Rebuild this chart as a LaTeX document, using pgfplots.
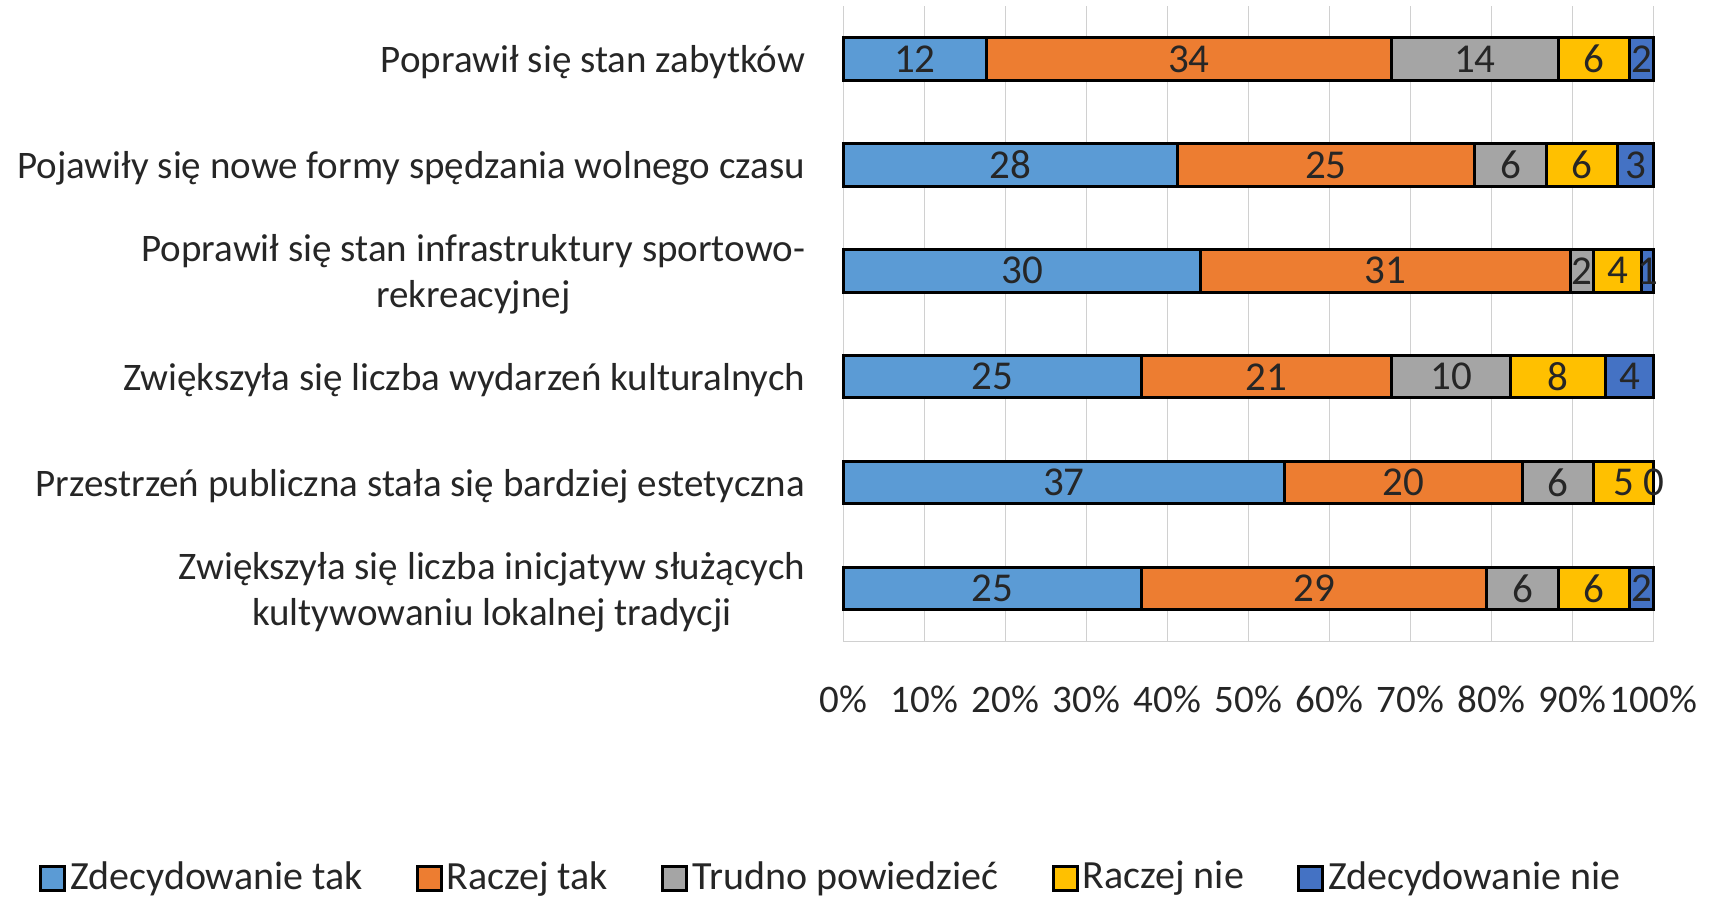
\documentclass[border=0pt]{standalone}
\usepackage{pgfplots}
\pgfplotsset{compat=1.18}
\usepackage{pgfplotstable}
\usepackage{fontspec}
\setmainfont{Carlito}
\definecolor{c1}{HTML}{5B9BD5}
\definecolor{c2}{HTML}{ED7D31}
\definecolor{c3}{HTML}{A5A5A5}
\definecolor{c4}{HTML}{FFC000}
\definecolor{c5}{HTML}{4472C4}
\definecolor{gridc}{HTML}{D0D0D0}
\definecolor{txt}{HTML}{262626}
\pgfplotstableread{
pos tak rtak trudno rnie nie
5 12 34 14 6 2
4 28 25 6 6 3
3 30 31 2 4 1
2 25 21 10 8 4
1 37 20 6 5 0
0 25 29 6 6 2
}\data
\begin{document}
\fontsize{19.5}{23}\selectfont
\begin{tikzpicture}[font=\fontsize{19.5}{23}\selectfont]
\useasboundingbox (0,0) rectangle (855.5pt,449pt);
\begin{axis}[
  at={(421.75pt,128.2pt)}, anchor=south west,
  scale only axis, width=405pt, height=317.8pt,
  xbar stacked, bar width=0.4,
  xmin=0, xmax=68, ymin=-0.5, ymax=5.5,
  clip=false,
  axis x line*=bottom, axis y line*=left,
  axis line style={draw=gridc, line width=0.8pt},
  xmajorgrids, major grid style={draw=gridc, line width=0.8pt},
  xtick={0,6.8,13.6,20.4,27.2,34,40.8,47.6,54.4,61.2,68},
  xticklabels={0\%,10\%,20\%,30\%,40\%,50\%,60\%,70\%,80\%,90\%,100\%},
  xtick style={draw=none}, ytick style={draw=none},
  xticklabel style={anchor=center, yshift=-29pt, text=txt, inner sep=0pt},
  ytick={0,1,2,3,4,5},
  yticklabels={{Zwiększyła się liczba inicjatyw służących\\kultywowaniu lokalnej tradycji},
    {Przestrzeń publiczna stała się bardziej estetyczna},
    {Zwiększyła się liczba wydarzeń kulturalnych},
    {Poprawił się stan infrastruktury sportowo-\\rekreacyjnej},
    {Pojawiły się nowe formy spędzania wolnego czasu},
    {Poprawił się stan zabytków}},
  yticklabel style={align=center, anchor=east, inner sep=0pt, xshift=-19pt, yshift=-1.6pt, text=txt},
  /pgf/number format/assume math mode=true,
  point meta=rawx,
  nodes near coords={\pgfmathprintnumber{\pgfplotspointmeta}},
  every node near coord/.append style={anchor=center, text=txt, inner sep=0pt,
     font=\fontsize{20.5}{24}\selectfont},
  every axis plot/.append style={draw=black, line width=1.5pt},
  legend columns=5,
  legend style={draw=none, fill=none, inner sep=0pt, outer sep=0pt,
     at={(-0.993,-0.372)}, anchor=west,
     font=\fontsize{20}{24}\selectfont,
     nodes={inner xsep=1.5pt, inner ysep=0pt, text=txt},
     /tikz/every odd column/.append style={column sep=0.5pt},
     /tikz/every even column/.append style={column sep=25pt}},
  legend image code/.code={\draw[#1, line width=1.5pt] (0pt,-6pt) rectangle (12pt,6pt);},
]
\addplot[fill=c1] table[x=tak, y=pos] {\data};
\addplot[fill=c2] table[x=rtak, y=pos] {\data};
\addplot[fill=c3] table[x=trudno, y=pos] {\data};
\addplot[fill=c4] table[x=rnie, y=pos] {\data};
\addplot[fill=c5] table[x=nie, y=pos] {\data};
\legend{Zdecydowanie tak, Raczej tak, Trudno powiedzieć, Raczej nie, Zdecydowanie nie}
\coordinate (zerolabel) at (axis cs:68,1);
\end{axis}
\node[anchor=center, text=txt, inner sep=0pt, font=\fontsize{20.5}{24}\selectfont] at (zerolabel) {0};
\end{tikzpicture}
\end{document}
